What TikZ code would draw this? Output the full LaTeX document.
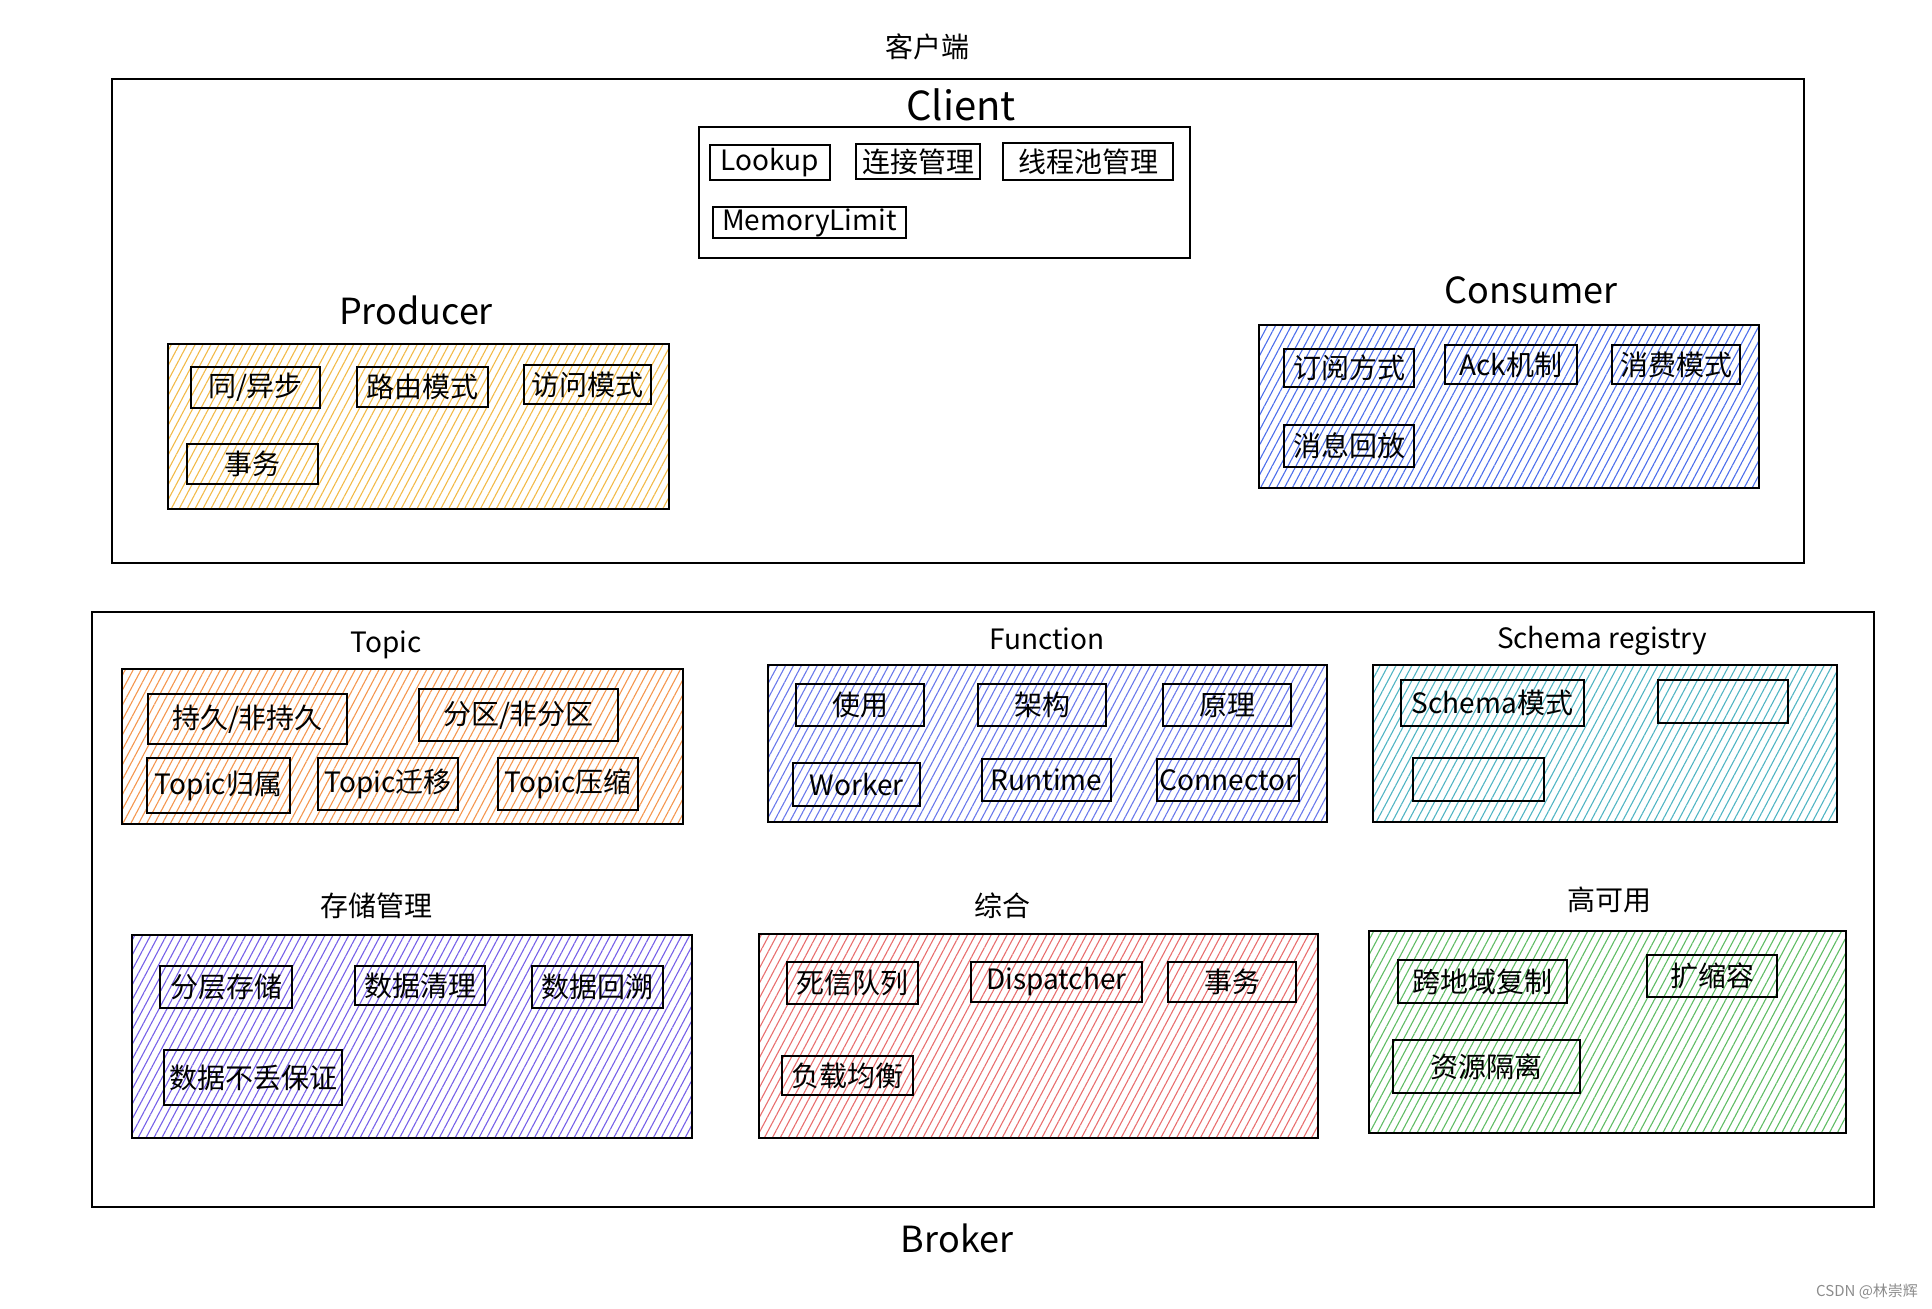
\documentclass[tikz,border=0pt]{standalone}
\usepackage{fontspec}
\setmainfont{Noto Sans CJK SC}
\usetikzlibrary{fit,patterns.meta}
\definecolor{cyel}{RGB}{242,186,72}
\definecolor{cblue}{RGB}{76,110,235}
\definecolor{corg}{RGB}{244,150,78}
\definecolor{cfun}{RGB}{105,120,235}
\definecolor{cteal}{RGB}{80,180,195}
\definecolor{cpur}{RGB}{118,96,232}
\definecolor{cred}{RGB}{232,110,110}
\definecolor{cgrn}{RGB}{95,188,100}
\newcommand{\mkitem}[4]{\node[item, fit={#2 #3}] (#1) {}; \node[lbl] (#1-t) at (#1.center) {#4};}
\begin{document}
\begin{tikzpicture}[x=0.5pt,y=-0.5pt,
  grp/.style={draw, line width=1.3pt, inner sep=0pt},
  area/.style={grp, pattern={Lines[angle=62,distance=3.5pt,line width=0.55pt]}, pattern color=#1},
  item/.style={draw, line width=1.2pt, inner sep=0pt},
  lbl/.style={inner sep=0pt, font=\fontsize{14}{16}\selectfont},
  ttl/.style={font=\fontsize{14}{16}\selectfont},
  big/.style={font=\fontsize{18}{20}\selectfont},
]
\useasboundingbox (0,0) rectangle (1932,1308);

% ---------------- client side ----------------
\node[ttl] (khd) at (927,47) {客户端};
\node[grp, fit={(112,79) (1804,563)}] (clientouter) {};

\node[font=\fontsize{20}{22}\selectfont] (clientt) at (961,105) {Client};
\node[grp, fit={(699,127) (1190,258)}] (clientbox) {};
\mkitem{lookup}{(710,145)}{(830,180)}{Lookup}
\mkitem{ljgl}{(856,144)}{(980,179)}{连接管理}
\mkitem{xccgl}{(1003,143)}{(1173,180)}{线程池管理}
\mkitem{memlim}{(713,207)}{(906,238)}{MemoryLimit}

\node[big] (prodt) at (416,310) {Producer};
\node[area=cyel, fit={(168,344) (669,509)}] (prodbox) {};
\mkitem{tyb}{(191,367)}{(320,408)}{同/异步}
\mkitem{lyms}{(357,367)}{(488,407)}{路由模式}
\mkitem{fwms}{(524,365)}{(651,404)}{访问模式}
\mkitem{swp}{(187,444)}{(318,484)}{事务}

\node[big] (const) at (1531,290) {Consumer};
\node[area=cblue, fit={(1259,325) (1759,488)}] (consbox) {};
\mkitem{dyfs}{(1284,349)}{(1414,387)}{订阅方式}
\mkitem{ackjz}{(1445,345)}{(1577,384)}{Ack机制}
\mkitem{xfms}{(1612,345)}{(1740,384)}{消费模式}
\mkitem{xxhf}{(1284,425)}{(1414,467)}{消息回放}

% ---------------- broker side ----------------
\node[grp, fit={(92,612) (1874,1207)}] (brokerouter) {};
\node[big] (brokert) at (957,1238) {Broker};

\node[ttl] (topict) at (386,645) {Topic};
\node[area=corg, fit={(122,669) (683,824)}] (topicbox) {};
\mkitem{cjf}{(148,694)}{(347,744)}{持久/非持久}
\mkitem{fqf}{(419,689)}{(618,741)}{分区/非分区}
\mkitem{tgs}{(147,758)}{(290,813)}{Topic归属}
\mkitem{tqy}{(318,758)}{(458,810)}{Topic迁移}
\mkitem{tys}{(498,758)}{(638,810)}{Topic压缩}

\node[ttl] (funct) at (1047,639) {Function};
\node[area=cfun, fit={(768,665) (1327,822)}] (funcbox) {};
\mkitem{sy}{(796,684)}{(924,726)}{使用}
\mkitem{jg}{(978,684)}{(1106,726)}{架构}
\mkitem{yl}{(1163,684)}{(1291,726)}{原理}
\mkitem{worker}{(793,763)}{(920,806)}{Worker}
\mkitem{runtime}{(982,759)}{(1111,801)}{Runtime}
\mkitem{connector}{(1157,759)}{(1299,801)}{Connector}

\node[ttl] (schemat) at (1602,641) {Schema registry};
\node[area=cteal, fit={(1373,665) (1837,822)}] (schemabox) {};
\mkitem{schms}{(1401,680)}{(1584,726)}{Schema模式}
\node[item, fit={(1658,680) (1788,723)}] (sempty1) {};
\node[item, fit={(1413,758) (1544,801)}] (sempty2) {};

\node[ttl] (stort) at (376,906) {存储管理};
\node[area=cpur, fit={(132,935) (692,1138)}] (storbox) {};
\mkitem{fccc}{(160,966)}{(292,1008)}{分层存储}
\mkitem{sjql}{(355,966)}{(485,1005)}{数据清理}
\mkitem{sjhs}{(532,966)}{(663,1008)}{数据回溯}
\mkitem{sjbd}{(164,1050)}{(342,1105)}{数据不丢保证}

\node[ttl] (zht) at (1002,906) {综合};
\node[area=cred, fit={(759,934) (1318,1138)}] (zhbox) {};
\mkitem{sxdl}{(787,962)}{(918,1004)}{死信队列}
\mkitem{disp}{(971,962)}{(1142,1002)}{Dispatcher}
\mkitem{sw2}{(1168,962)}{(1296,1002)}{事务}
\mkitem{fzjh}{(782,1056)}{(913,1095)}{负载均衡}

\node[ttl] (gkyt) at (1609,900) {高可用};
\node[area=cgrn, fit={(1369,931) (1846,1133)}] (gkybox) {};
\mkitem{kdyfz}{(1398,960)}{(1567,1003)}{跨地域复制}
\mkitem{ksr}{(1647,955)}{(1777,997)}{扩缩容}
\mkitem{zygl}{(1393,1040)}{(1580,1093)}{资源隔离}

\node[font=\fontsize{7.5}{9}\selectfont, text=black!45, anchor=east] (wm) at (1925,1291) {CSDN @林崇辉};
\end{tikzpicture}
\end{document}
